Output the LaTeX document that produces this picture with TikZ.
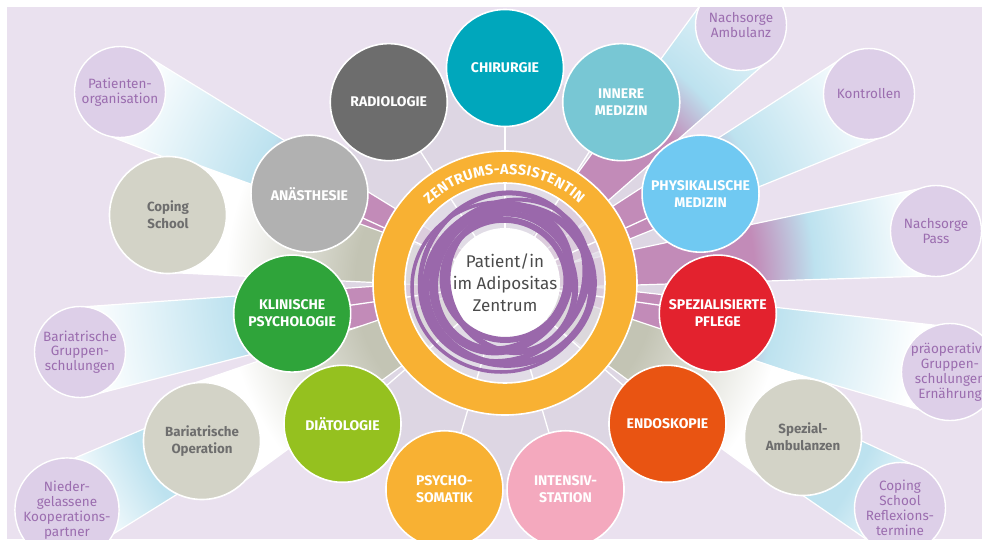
\documentclass[tikz,border=0pt]{standalone}
\usepackage{fontspec}
\setmainfont{Fira Sans}
\usetikzlibrary{calc,decorations.text}

\definecolor{backlav}{HTML}{EAE1EF}
\definecolor{flowergray}{HTML}{DDD6E3}
\definecolor{chircol}{HTML}{00A7BC}
\definecolor{radiocol}{HTML}{6D6D6D}
\definecolor{innerecol}{HTML}{78C7D4}
\definecolor{physcol}{HTML}{70C9F2}
\definecolor{pflegecol}{HTML}{E3222E}
\definecolor{endocol}{HTML}{E95412}
\definecolor{intenscol}{HTML}{F4A9BE}
\definecolor{psychocol}{HTML}{F8B133}
\definecolor{diaetcol}{HTML}{95C11F}
\definecolor{klincol}{HTML}{2FA43A}
\definecolor{anaescol}{HTML}{B1B1B1}
\definecolor{satfill}{HTML}{DDCFE8}
\definecolor{sattext}{HTML}{9B6DAF}
\definecolor{stonefill}{HTML}{D3D3C7}
\definecolor{stonetext}{HTML}{6E6E6E}
\definecolor{ringorange}{HTML}{F8B133}
\definecolor{loopviolet}{HTML}{9A68AB}
\definecolor{raymauve}{HTML}{C28BB8}
\definecolor{rayblue}{HTML}{BDE2EF}
\definecolor{raystone}{HTML}{C3C4B4}
\definecolor{coretext}{HTML}{4B4B4B}
\definecolor{discgray}{HTML}{E3DEE7}

% radial fades around the hub, 1bp = 20pt of the picture
\pgfdeclareradialshading{rayfade}{\pgfpointorigin}{color(0bp)=(raymauve); color(11bp)=(raymauve); color(13.6bp)=(rayblue); color(21bp)=(white); color(50bp)=(white)}
\pgfdeclareradialshading{passfade}{\pgfpointorigin}{color(0bp)=(raymauve); color(12.5bp)=(raymauve); color(15.5bp)=(rayblue); color(21bp)=(white); color(50bp)=(white)}
\pgfdeclareradialshading{farfade}{\pgfpointorigin}{color(0bp)=(rayblue); color(20bp)=(rayblue); color(24bp)=(white); color(50bp)=(white)}
\pgfdeclareradialshading{stonefade}{\pgfpointorigin}{color(0bp)=(raystone); color(7.5bp)=(raystone); color(14bp)=(white); color(50bp)=(white)}

\pgfdeclarelayer{back}
\pgfdeclarelayer{rays}
\pgfsetlayers{back,rays,main}

% ray from the hub to a circle; the two corner points keep the shading centred on the hub
\newcommand{\rayto}[2]{(-500,-500) (500,500)
  ($(hub)!6pt!90:(#1)$) -- ($(#1)!#2!-90:(hub)$) -- ($(#1)!#2!90:(hub)$) -- ($(hub)!6pt!-90:(#1)$) -- cycle}
\newcommand{\ringfont}{\bfseries\fontsize{14.5}{14.5}\selectfont}

\begin{document}
\begin{tikzpicture}[x=1pt, y=1pt,
  dept/.style={circle, draw=white, line width=1.6pt, minimum size=117pt, inner sep=0pt, align=center, text=white, font=\bfseries\fontsize{14}{17}\selectfont},
  sat/.style={circle, draw=white, line width=1.4pt, fill=satfill, minimum size=91pt, inner sep=0pt, align=center, text=sattext, font=\fontsize{13.5}{14.8}\selectfont},
  stone/.style={circle, draw=white, line width=1.6pt, fill=stonefill, minimum size=117pt, inner sep=0pt, align=center, text=stonetext, font=\bfseries\fontsize{13.3}{17}\selectfont},
  ray/.style={draw=white, line width=1.2pt, shading=rayfade},
  spoke/.style={draw=white, line width=1.3pt},
  scribble/.style={draw=loopviolet},
  core/.style={align=center, text=coretext, font=\fontsize{17}{22}\selectfont}
]
\useasboundingbox (-505,-256) rectangle (477,283);
\coordinate (hub) at (0,0);

% departments around the centre
\node[dept, fill=chircol] (chir) at (90:215) {CHIRURGIE};
\node[dept, fill=radiocol] (radio) at (122.73:215) {RADIOLOGIE};
\node[dept, fill=anaescol] (anaes) at (155.45:215) {ANÄSTHESIE};
\node[dept, fill=klincol] (klin) at (188.18:215) {KLINISCHE\\PSYCHOLOGIE};
\node[dept, fill=diaetcol] (diaet) at (220.91:215) {DIÄTOLOGIE};
\node[dept, fill=psychocol] (psycho) at (253.64:215) {PSYCHO-\\SOMATIK};
\node[dept, fill=intenscol] (intens) at (286.36:215) {INTENSIV-\\STATION};
\node[dept, fill=endocol] (endo) at (319.09:215) {ENDOSKOPIE};
\node[dept, fill=pflegecol] (pflege) at (351.82:215) {SPEZIALISIERTE\\PFLEGE};
\node[dept, fill=physcol] (physik) at (24.55:215) {PHYSIKALISCHE\\MEDIZIN};
\node[dept, fill=innerecol] (innere) at (57.27:215) {INNERE\\MEDIZIN};

% outer ring of offers
\node[stone] (coping) at (-337,68) {Coping\\School};
\node[stone] (barop) at (-303,-158) {Bariatrische\\Operation};
\node[stone] (spezamb) at (298,-154) {Spezial-\\Ambulanzen};
\node[sat] (patorg) at (-385,191) {Patienten-\\organisation};
\node[sat] (bargrupp) at (-425,-69) {Bariatrische\\Gruppen-\\schulungen};
\node[sat] (nieder) at (-438,-227) {Nieder-\\gelassene\\Kooperations-\\partner};
\node[sat] (nachamb) at (236,258) {Nachsorge\\Ambulanz};
\node[sat] (kontr) at (364,189) {Kontrollen};
\node[sat] (nachpass) at (431,52) {Nachsorge\\Pass};
\node[sat] (praeop) at (445,-89) {präoperative\\Gruppen-\\schulungen\\Ernährung};
\node[sat] (copref) at (395,-225) {Coping\\School\\Reflexions-\\termine};

\begin{pgfonlayer}{back}
  \fill[backlav] (-498,-256) rectangle (477,276);
  \fill[flowergray] (chir.center) -- (radio.center) -- (anaes.center) -- (klin.center) -- (diaet.center) -- (psycho.center)
    -- (intens.center) -- (endo.center) -- (pflege.center) -- (physik.center) -- (innere.center) -- cycle;
\end{pgfonlayer}

\begin{pgfonlayer}{rays}
  \shade[ray] \rayto{nachamb}{45pt};
  \shade[ray] \rayto{kontr}{45pt};
  \shade[ray] \rayto{praeop}{45pt};
  \shade[ray] \rayto{patorg}{45pt};
  \shade[ray] \rayto{bargrupp}{45pt};
  \shade[ray, shading=passfade] \rayto{nachpass}{45pt};
  \shade[ray, shading=farfade] \rayto{nieder}{45pt};
  \shade[ray, shading=farfade] \rayto{copref}{45pt};
  \shade[ray, shading=stonefade] \rayto{coping}{58pt};
  \shade[ray, shading=stonefade] \rayto{barop}{58pt};
  \shade[ray, shading=stonefade] \rayto{spezamb}{58pt};
  \foreach \n in {chir,radio,anaes,klin,diaet,psycho,intens,endo,pflege,physik,innere}
    \draw[spoke] (hub) -- (\n.center);
\end{pgfonlayer}

% centre disc with the scribbled loops
\fill[discgray, fill opacity=0.8] (hub) circle[radius=100];
\foreach \n in {chir,radio,anaes,klin,diaet,psycho,intens,endo,pflege,physik,innere}
  \draw[spoke] (hub) -- ($(hub)!100pt!(\n)$);
\fill[white] (hub) circle[radius=55];
\draw[scribble, line width=7pt, rotate=12] (4,-3) ellipse[x radius=84, y radius=79];
\draw[scribble, line width=5pt, rotate=-35] (-5,3) ellipse[x radius=80, y radius=87];
\draw[scribble, line width=9pt, rotate=60] (2,5) ellipse[x radius=74, y radius=66];
\draw[scribble, line width=6pt, rotate=20] (6,-2) ellipse[x radius=63, y radius=70];
\draw[scribble, line width=3.5pt] (-4,-4) ellipse[x radius=89, y radius=85];
\draw[scribble, line width=6pt, rotate=-10] (-1,3) ellipse[x radius=62, y radius=60];
\draw[scribble, line width=4pt, rotate=40] (3,1) ellipse[x radius=87, y radius=76];
\node[core] (patient) at (hub) {Patient/in\\im Adipositas\\Zentrum};

% orange ring with its label
\draw[white, line width=1.6pt, fill=ringorange, even odd rule] (hub) circle[radius=132] (hub) circle[radius=100];
\path[decorate, decoration={text along path, text={|\ringfont|ZENTRUMS-ASSISTENTIN}, text align={fit to path}, text color=white}]
  (134:109) arc[start angle=134, end angle=47, radius=109];

\fill[white] (-505,276) rectangle (477,283);
\fill[white] (-505,-256) rectangle (-498,283);
\end{tikzpicture}
\end{document}
